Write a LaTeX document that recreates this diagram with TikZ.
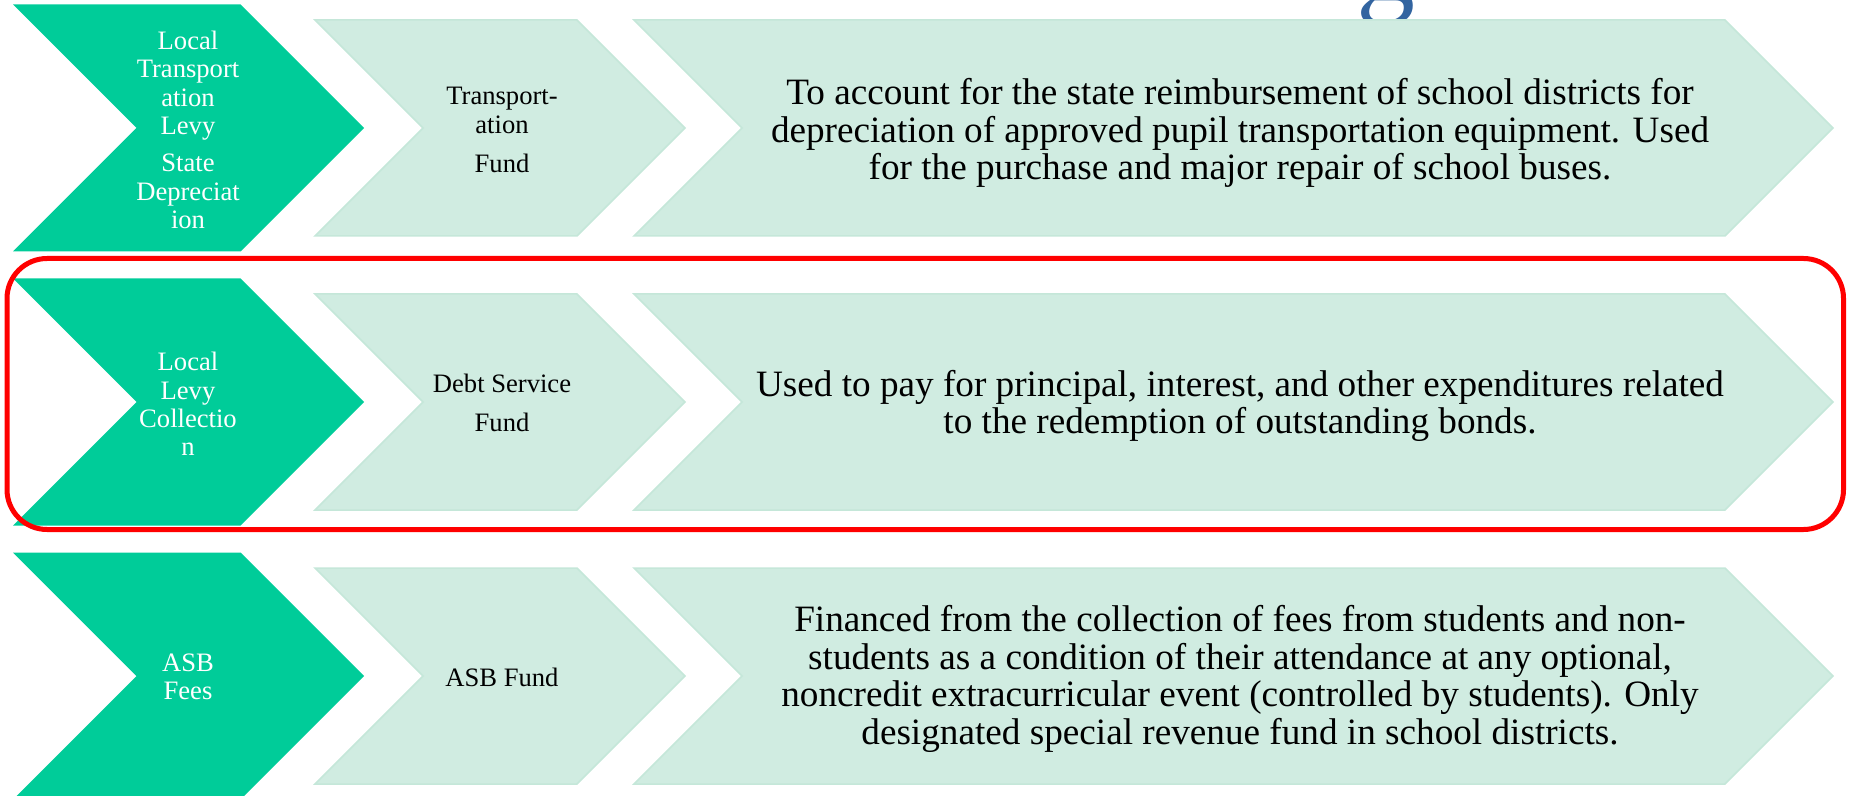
\documentclass[tikz,border=0pt]{standalone}
\usepackage{fontspec}
\setmainfont{Liberation Serif}

\definecolor{levygreen}{RGB}{0,204,153}
\definecolor{fundmint}{RGB}{208,236,225}
\definecolor{fundedge}{RGB}{197,231,217}
\definecolor{titleblue}{RGB}{50,100,160}

% chevron outline: left x, right x, middle y, half height (45 degree edges)
\newcommand{\chevronpath}[4]{%
  (#1,#3-#4) -- (#2-#4,#3-#4) -- (#2,#3) -- (#2-#4,#3+#4) -- (#1,#3+#4) -- (#1+#4,#3) -- cycle}

\tikzset{
  levyfill/.style={fill=levygreen},
  fundfill/.style={fill=fundmint, draw=fundedge, line width=0.75pt, line join=miter},
  levytext/.style={text=white, align=center, inner sep=0pt,
    font=\fontsize{13.3}{14.2}\selectfont},
  fundtext/.style={text=black, align=center, inner sep=0pt,
    font=\fontsize{13.3}{14.2}\selectfont},
  desctext/.style={text=black, align=center, inner sep=0pt,
    font=\fontsize{18.6}{18.8}\selectfont},
  focusbox/.style={draw=red, line width=2.5pt, rounded corners=20pt},
}

\begin{document}
\begin{tikzpicture}[x=0.5pt, y=-0.5pt]
\useasboundingbox (0,0) rectangle (1851,796);

% partly visible heading letter above the rows
\begin{scope}
  \clip (0,0) rectangle (1851,796);
  \node[anchor=base, inner sep=0pt, text=titleblue,
        font=\fontsize{59}{59}\selectfont] (heading) at (1386,1) {g};
\end{scope}

% three rows: source chevron, fund chevron, description chevron
\foreach \ym in {128,402,676} {
  \path[levyfill] \chevronpath{13}{364}{\ym}{123.5};
  \path[fundfill] \chevronpath{315}{685}{\ym}{108};
  \path[fundfill] \chevronpath{634}{1833}{\ym}{108};
}

% row 1
\node[levytext] (src1) at (188,130)
  {Local\\Transport\\ation\\Levy\\[4.5pt]State\\Depreciat\\ion};
\node[fundtext] (fund1) at (502,130)
  {Transport-\\ation\\[5.5pt]Fund};
\node[desctext] (desc1) at (1240,133)
  {To account for the state reimbursement of school districts for\\
   depreciation of approved pupil transportation equipment. Used\\
   for the purchase and major repair of school buses.};

% row 2
\node[levytext] (src2) at (188,404)
  {Local\\Levy\\Collectio\\n};
\node[fundtext] (fund2) at (502,403)
  {Debt Service\\[5pt]Fund};
\node[desctext] (desc2) at (1240,406)
  {Used to pay for principal, interest, and other expenditures related\\
   to the redemption of outstanding bonds.};

% row 3
\node[levytext] (src3) at (188,677)
  {ASB\\Fees};
\node[fundtext] (fund3) at (502,677)
  {ASB Fund};
\node[desctext] (desc3) at (1240,679)
  {Financed from the collection of fees from students and non-\\
   students as a condition of their attendance at any optional,\\
   noncredit extracurricular event (controlled by students). Only\\
   designated special revenue fund in school districts.};

% highlight around the debt service row
\draw[focusbox] (7,258.5) rectangle (1843.5,529.5);
\end{tikzpicture}
\end{document}
